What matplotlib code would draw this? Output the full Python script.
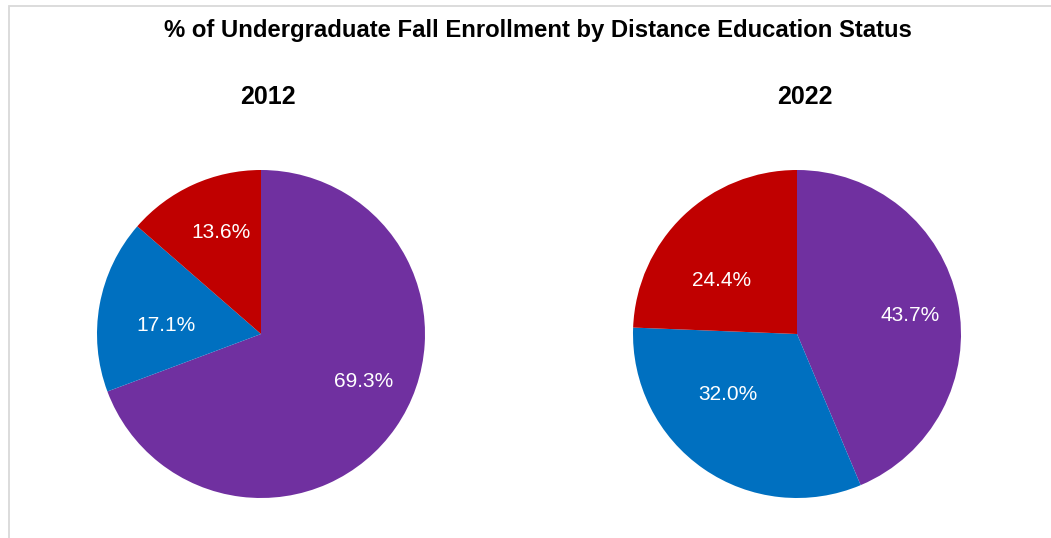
import matplotlib.pyplot as plt
from matplotlib.patches import Rectangle

# Data
years = ['2012', '2022']
categories = ['Not enrolled in distance education', 'Some distance education', 'Exclusively distance education']
shares_2012 = [69.3, 17.1, 13.6]
shares_2022 = [43.7, 32.0, 24.4]
colors = ['#7030A0', '#0070C0', '#C00000']

W, H = 1051, 538
fig = plt.figure(figsize=(W / 100, H / 100), dpi=100)
plt.rcParams['font.family'] = ['Liberation Sans', 'DejaVu Sans']

# light gray chart border (only top and left show in the crop)
fig.add_artist(Rectangle((9 / W, -0.1), 1.2, (H - 6) / H + 0.1, transform=fig.transFigure,
                         fill=False, edgecolor='#d9d9d9', linewidth=1.3))

fig.text(537.5 / W, 1 - 31 / H, '% of Undergraduate Fall Enrollment by Distance Education Status',
         ha='center', va='center', fontsize=17.2, fontweight='bold')

# layout: pie centres / radius in pixels, label spots in pie-radius units (Excel "best fit")
r = 164
centers = [(261, 334), (797, 334)]
title_x = [268, 805]
label_spots = [[(0.628, -0.280), (-0.579, 0.067), (-0.244, 0.631)],
               [(0.689, 0.128), (-0.424, -0.354), (-0.457, 0.341)]]
all_shares = [shares_2012, shares_2022]

for i, year in enumerate(years):
    cx, cy = centers[i]
    ax = fig.add_axes([(cx - r) / W, (H - cy - r) / H, 2 * r / W, 2 * r / H])
    vals = all_shares[i]
    ax.pie(vals, colors=colors, startangle=90, counterclock=False, radius=1)
    for v, (lx, ly) in zip(vals, label_spots[i]):
        ax.text(lx, ly, f'{v:.1f}%', ha='center', va='center_baseline',
                color='white', fontsize=15)
    ax.set_xlim(-1, 1)
    ax.set_ylim(-1, 1)
    ax.axis('off')
    fig.text(title_x[i] / W, 1 - 97 / H, year, ha='center', va='center',
             fontsize=18, fontweight='bold')

fig.savefig('out.png', dpi=100)
